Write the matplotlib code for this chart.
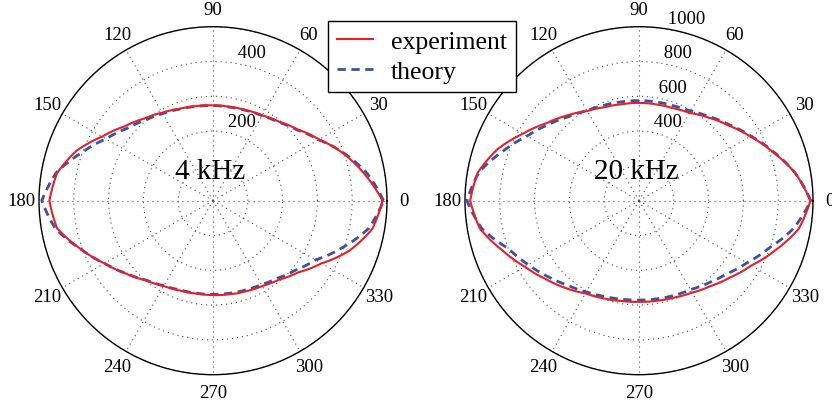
import numpy as np
import matplotlib
matplotlib.use('Agg')
import matplotlib.pyplot as plt

plt.rcParams['font.family'] = ['Liberation Serif', 'DejaVu Serif']

# ---------------- data ----------------
angles_deg = list(range(0, 360, 10))

exp_4k = [487, 442, 398, 352, 318, 296, 283, 277, 274, 274,
          276, 281, 292, 308, 332, 368, 418, 455, 470, 455,
          405, 360, 326, 299, 283, 275, 271, 271, 273, 277,
          283, 296, 320, 360, 418, 465]
theory_4k = [490, 450, 400, 350, 316, 294, 282, 276, 273, 273,
             275, 280, 289, 302, 323, 355, 402, 458, 492, 460,
             405, 360, 325, 298, 282, 273, 270, 269, 270, 273,
             278, 290, 310, 340, 395, 455]

exp_20k = [985, 912, 818, 738, 672, 623, 582, 566, 562, 562,
           563, 572, 595, 640, 693, 770, 865, 940, 970, 928,
           835, 758, 700, 655, 615, 597, 585, 581, 584, 592,
           610, 640, 685, 745, 833, 932]
theory_20k = [987, 912, 822, 742, 678, 630, 594, 580, 576, 575,
              577, 584, 597, 630, 680, 742, 832, 935, 989, 918,
              800, 735, 680, 635, 605, 585, 574, 571, 573, 580,
              590, 618, 655, 715, 795, 904]

rticks_4k = [100, 200, 300, 400, 500]
rlabels_4k = ['', '200', '', '400', '']
rticks_20k = [200, 400, 600, 800, 1000]
rlabels_20k = ['', '400', '600', '800', '1000']

theta_ticks = list(range(0, 360, 30))
theta_labels = [str(a) for a in theta_ticks]

panel_titles = ['4 kHz', '20 kHz']
legend_labels = ['experiment', 'theory']

# ---------------- style ----------------
RED = '#ee1c24'
BLUE = '#3953a4'
W, H = 832, 410
R = 174
centers = [(213, 201.7), (639, 201.7)]

fig = plt.figure(figsize=(W / 100, H / 100), dpi=100)

panels = [
    (exp_4k, theory_4k, rticks_4k, rlabels_4k, panel_titles[0]),
    (exp_20k, theory_20k, rticks_20k, rlabels_20k, panel_titles[1]),
]

handles = None
for (cx, cy), (ex, th_vals, rt, rl, title) in zip(centers, panels):
    ax = fig.add_axes([(cx - R) / W, (H - cy - R) / H, 2 * R / W, 2 * R / H],
                      projection='polar')
    ax.set_facecolor('white')
    theta = np.deg2rad(np.append(angles_deg, 360))
    l1, = ax.plot(theta, np.append(ex, ex[0]), color=RED, lw=1.5, zorder=4)
    l2, = ax.plot(theta, np.append(th_vals, th_vals[0]), color=BLUE, lw=2.0,
                  ls=(0, (3, 2)), zorder=3)
    # draw segments as arcs in polar space (rendering only)
    for ln in (l1, l2):
        ln.get_path()._interpolation_steps = 30
    if handles is None:
        handles = [l1, l2]
    rmax = rt[-1]
    rinc = rt[1] - rt[0]
    ax.set_ylim(0, rmax)
    ax.set_yticks(rt)
    ax.set_yticklabels([])
    ax.set_xticks(np.deg2rad(theta_ticks))
    ax.set_xticklabels([])
    ax.tick_params(length=0)
    ax.grid(True, color='0.3', lw=0.8, ls=(0, (1, 3.5)))
    ax.spines['polar'].set_color('black')
    ax.spines['polar'].set_linewidth(1.0)

    for a, lab in zip(theta_ticks, theta_labels):
        ax.text(np.deg2rad(a), 1.1 * rmax, lab, ha='center', va='center',
                fontsize=13.5, clip_on=False)
    for r, lab in zip(rt, rl):
        if lab:
            ax.text(np.deg2rad(82), r + rinc / 20, ' ' + lab, ha='left',
                    va='bottom', fontsize=13.5, clip_on=False)
    ax.text(0.493, 0.586, title, transform=ax.transAxes, ha='center',
            va='center', fontsize=21)

leg = fig.legend(handles, legend_labels, loc='upper left',
                 bbox_to_anchor=(328 / W, 1 - 22 / H),
                 bbox_transform=fig.transFigure, borderaxespad=0,
                 fontsize=18.5, frameon=True, fancybox=False,
                 edgecolor='black', framealpha=1, handlelength=1.42,
                 handletextpad=0.68, borderpad=0.35, labelspacing=0.26)
leg.get_frame().set_linewidth(1.0)

fig.savefig('out.png', dpi=100)
